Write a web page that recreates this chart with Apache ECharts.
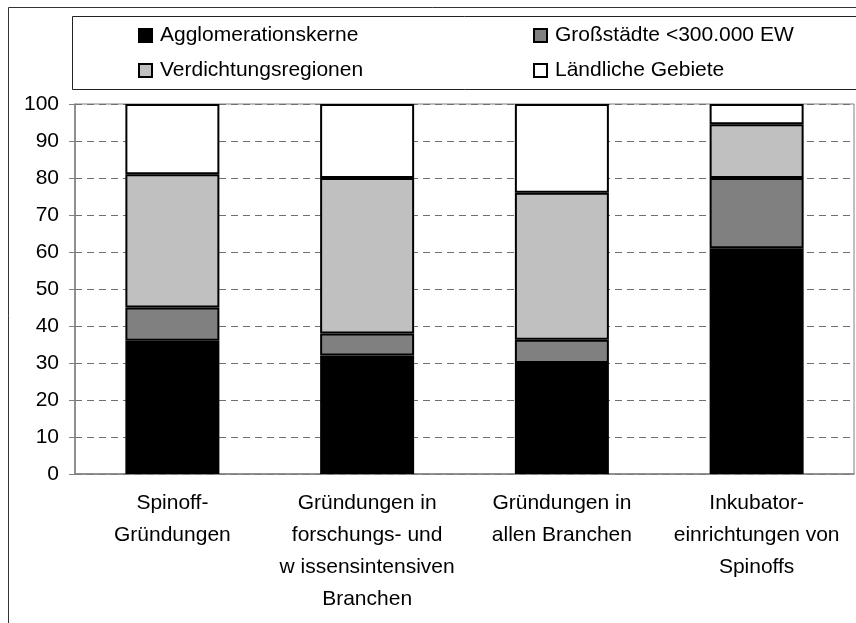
<!DOCTYPE html>
<html>
<head>
<meta charset="utf-8">
<script src="https://cdn.jsdelivr.net/npm/echarts@6/dist/echarts.min.js"></script>
<style>
  html, body { margin: 0; padding: 0; background: #ffffff; }
  #chart { width: 856px; height: 623px; }
</style>
</head>
<body>
<div id="chart"></div>
<script>
// Kategorien (Gründungstypen)
const categories = [
  'Spinoff-\nGründungen',
  'Gründungen in\nforschungs- und\nw issensintensiven\nBranchen',
  'Gründungen in\nallen Branchen',
  'Inkubator-\neinrichtungen von\nSpinoffs'
];

// Anteile in Prozent je Regionstyp
const agglomerationskerne = [36, 32, 30, 61];
const grossstaedte = [9, 6, 6.3, 19];
const verdichtungsregionen = [36, 42, 39.7, 14.5];
const laendlicheGebiete = [19, 20, 24, 5.5];

const seriesNames = [
  'Agglomerationskerne',
  'Großstädte <300.000 EW',
  'Verdichtungsregionen',
  'Ländliche Gebiete'
];

const yTicks = [0, 10, 20, 30, 40, 50, 60, 70, 80, 90, 100];

const FONT = 'Liberation Sans, Arial, sans-serif';
const FS = 21;

const colors = ['#000000', '#808080', '#c0c0c0', '#ffffff'];
const values = [agglomerationskerne, grossstaedte, verdichtungsregionen, laendlicheGebiete];

const chart = echarts.init(document.getElementById('chart'), null, { renderer: 'canvas' });

function legendAt(name, left, top) {
  return {
    data: [name],
    left: left,
    top: top,
    orient: 'horizontal',
    itemWidth: 13,
    itemHeight: 13,
    selectedMode: false,
    icon: 'rect',
    padding: 0,
    textStyle: { fontFamily: FONT, fontSize: FS, color: '#000', padding: [0, 0, 0, 3] }
  };
}

const option = {
  animation: false,
  backgroundColor: '#ffffff',
  textStyle: { fontFamily: FONT },
  graphic: [
    {
      type: 'rect',
      shape: { x: 8.5, y: 7.5, width: 900, height: 700 },
      style: { fill: 'none', stroke: '#333333', lineWidth: 1 },
      z: -10
    },
    {
      type: 'rect',
      shape: { x: 72.5, y: 16.5, width: 900, height: 73 },
      style: { fill: '#ffffff', stroke: '#222222', lineWidth: 1 },
      z: -5
    }
  ],
  legend: [
    legendAt(seriesNames[0], 138, 25),
    legendAt(seriesNames[1], 533, 25),
    legendAt(seriesNames[2], 138, 60),
    legendAt(seriesNames[3], 533, 60)
  ],
  grid: {
    left: 75,
    right: 2,
    top: 104,
    bottom: 149,
    show: true,
    borderColor: '#808080',
    borderWidth: 1,
    backgroundColor: '#ffffff'
  },
  xAxis: {
    type: 'category',
    data: categories,
    axisLine: { show: true, lineStyle: { color: '#808080', width: 1.5 } },
    axisTick: { show: false },
    axisLabel: {
      interval: 0,
      fontFamily: FONT,
      fontSize: FS,
      color: '#000',
      lineHeight: 32,
      margin: 13,
      align: 'center'
    }
  },
  yAxis: {
    type: 'value',
    min: yTicks[0],
    max: yTicks[yTicks.length - 1],
    interval: 10,
    axisLine: { show: true, lineStyle: { color: '#808080', width: 1.5 } },
    axisTick: { show: true, inside: false, length: 6, lineStyle: { color: '#808080' } },
    axisLabel: { fontFamily: FONT, fontSize: FS, color: '#000', margin: 16 },
    splitLine: { show: true, lineStyle: { color: '#707070', type: [7, 5], width: 1 } }
  },
  series: seriesNames.map((name, i) => ({
    name: name,
    type: 'bar',
    stack: 'anteil',
    barWidth: 94,
    data: values[i],
    itemStyle: { color: colors[i], borderColor: '#000000', borderWidth: 2 }
  }))
};

chart.setOption(option);
</script>
</body>
</html>
